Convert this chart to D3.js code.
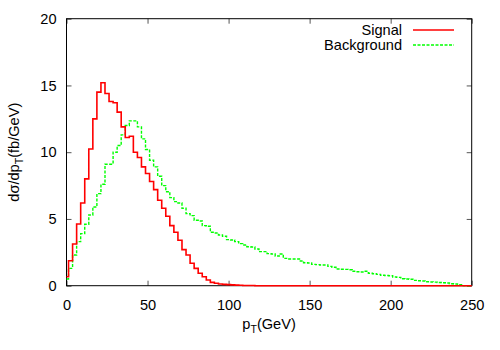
<!DOCTYPE html>
<html>
<head>
<meta charset="utf-8">
<script src="https://cdn.jsdelivr.net/npm/d3@7"></script>
<style>
  body { margin: 0; background: #fff; }
  svg text { font-family: "Liberation Sans", Arial, sans-serif; fill: #000; }
</style>
</head>
<body>
<div id="chart"></div>
<script>
(function() {
  // histogram points, one every BIN_WIDTH GeV starting at 0
  const BIN_WIDTH = 2.5;

  const signalValues = [
    0.67, 1.87, 3.12, 4.62, 6.2, 8.0, 10.24, 12.5, 14.5, 15.2,
    14.4, 13.8, 13.7, 13.0, 11.9, 11.1, 11.2, 10.0, 9.6, 8.9,
    8.4, 7.8, 7.2, 6.4, 5.8, 5.2, 4.5, 4.0, 3.4, 2.7,
    2.3, 1.68, 1.3, 0.93, 0.67, 0.43, 0.25, 0.18, 0.13, 0.1,
    0.08, 0.06, 0.04, 0.03, 0.02, 0.02, 0.01, 0, 0, 0,
    0, 0, 0, 0, 0, 0, 0, 0, 0, 0,
    0, 0, 0, 0, 0, 0, 0, 0, 0, 0,
    0, 0, 0, 0, 0, 0, 0, 0, 0, 0,
    0, 0, 0, 0, 0, 0, 0, 0, 0, 0,
    0, 0, 0, 0, 0, 0, 0, 0, 0, 0,
    0
  ];

  const backgroundValues = [
    0.5, 1.3, 2.3, 3.3, 3.9, 4.6, 5.3, 5.9, 6.9, 7.6,
    9.1, 9.1, 10.0, 10.5, 11.3, 12.0, 12.35, 12.35, 11.9, 11.0,
    10.2, 9.4, 8.9, 8.2, 7.5, 7.04, 6.6, 6.3, 6.2, 5.8,
    5.4, 5.25, 4.9, 4.85, 4.5, 4.45, 4.0, 3.95, 3.8, 3.7,
    3.45, 3.42, 3.3, 3.15, 3.05, 2.92, 2.9, 2.75, 2.55, 2.55,
    2.4, 2.37, 2.22, 2.37, 2.05, 2.0, 2.0, 2.0, 1.85, 1.72,
    1.7, 1.6, 1.58, 1.55, 1.55, 1.45, 1.38, 1.25, 1.23, 1.22,
    1.2, 1.08, 1.05, 1.03, 1.08, 0.93, 0.9, 0.85, 0.78, 0.76,
    0.75, 0.65, 0.62, 0.52, 0.5, 0.48, 0.4, 0.37, 0.35, 0.3,
    0.28, 0.27, 0.24, 0.22, 0.2, 0.15, 0.13, 0.08, 0, 0,
    0
  ];

  const seriesNames = ["Signal", "Background"];
  const xTicks = [0, 50, 100, 150, 200, 250];
  const yTicks = [0, 5, 10, 15, 20];

  const WIDTH = 500;
  const HEIGHT = 350;
  const margin = { top: 18.7, right: 28.3, bottom: 64.3, left: 66.5 };
  const TICK_SIZE = 5;
  const FONT_SIZE = "14.6px";
  const SUB_SIZE = "10.5px";

  const svg = d3
    .select("#chart")
    .append("svg")
    .attr("width", WIDTH)
    .attr("height", HEIGHT);

  const x = d3
    .scaleLinear()
    .domain([0, 250])
    .range([margin.left, WIDTH - margin.right]);

  const y = d3
    .scaleLinear()
    .domain([0, 20])
    .range([HEIGHT - margin.bottom, margin.top]);

  // ticks, inward and mirrored like gnuplot
  const axes = svg.append("g");

  const drawAxis = (axis, transform) => {
    const g = axes.append("g").attr("transform", transform).call(axis);
    g.select(".domain").remove();
    g.selectAll(".tick line").attr("stroke", "#555").attr("stroke-width", 1);
    g.selectAll(".tick text")
      .style("font-size", FONT_SIZE)
      .style("font-family", "Liberation Sans, Arial, sans-serif")
      .attr("fill", "#000");
    return g;
  };

  drawAxis(
    d3.axisBottom(x).tickValues(xTicks).tickSizeInner(-TICK_SIZE).tickPadding(TICK_SIZE + 9),
    `translate(0,${y(0)})`
  );
  drawAxis(
    d3.axisTop(x).tickValues(xTicks).tickSizeInner(-TICK_SIZE).tickFormat(""),
    `translate(0,${y(20)})`
  );
  drawAxis(
    d3.axisLeft(y).tickValues(yTicks).tickSizeInner(-TICK_SIZE).tickPadding(TICK_SIZE + 5),
    `translate(${x(0)},0)`
  );
  drawAxis(
    d3.axisRight(y).tickValues(yTicks).tickSizeInner(-TICK_SIZE).tickFormat(""),
    `translate(${x(250)},0)`
  );

  // border
  svg
    .append("rect")
    .attr("x", x(0))
    .attr("y", y(20))
    .attr("width", x(250) - x(0))
    .attr("height", y(0) - y(20))
    .attr("fill", "none")
    .attr("stroke", "#000")
    .attr("stroke-width", 1);

  const line = d3
    .line()
    .x((d, i) => x(i * BIN_WIDTH))
    .y(d => y(d))
    .curve(d3.curveStep);

  const series = [
    { name: seriesNames[0], values: signalValues, color: "#ff0000", dash: null, width: 1.6 },
    { name: seriesNames[1], values: backgroundValues, color: "#00ff00", dash: "3,1.5", width: 1.4 }
  ];

  svg
    .append("g")
    .selectAll("path")
    .data(series.slice().reverse())
    .enter()
    .append("path")
    .attr("d", d => line(d.values))
    .attr("fill", "none")
    .attr("stroke", d => d.color)
    .attr("stroke-width", d => d.width)
    .attr("stroke-dasharray", d => d.dash);

  // legend
  const legend = svg
    .append("g")
    .selectAll("g")
    .data(series)
    .enter()
    .append("g")
    .attr("transform", (d, i) => `translate(0,${30 + i * 15})`);

  legend
    .append("text")
    .attr("x", 402)
    .attr("dy", "0.35em")
    .attr("text-anchor", "end")
    .style("font-size", FONT_SIZE)
    .text(d => d.name);

  legend
    .append("line")
    .attr("x1", 413)
    .attr("x2", 454)
    .attr("stroke", d => d.color)
    .attr("stroke-width", d => d.width)
    .attr("stroke-dasharray", d => d.dash);

  // axis titles
  const xTitle = svg
    .append("text")
    .attr("x", (x(0) + x(250)) / 2)
    .attr("y", 329)
    .attr("text-anchor", "middle")
    .style("font-size", FONT_SIZE);
  xTitle.append("tspan").text("p");
  xTitle.append("tspan").attr("dy", 4).style("font-size", SUB_SIZE).text("T");
  xTitle.append("tspan").attr("dy", -4).text("(GeV)");

  const yTitle = svg
    .append("text")
    .attr("transform", `translate(19,${(y(0) + y(20)) / 2}) rotate(-90)`)
    .attr("text-anchor", "middle")
    .style("font-size", FONT_SIZE);
  yTitle.append("tspan").text("d\u03c3/dp");
  yTitle.append("tspan").attr("dy", 4).style("font-size", SUB_SIZE).text("T");
  yTitle.append("tspan").attr("dy", -4).text("(fb/GeV)");
})();
</script>
</body>
</html>
